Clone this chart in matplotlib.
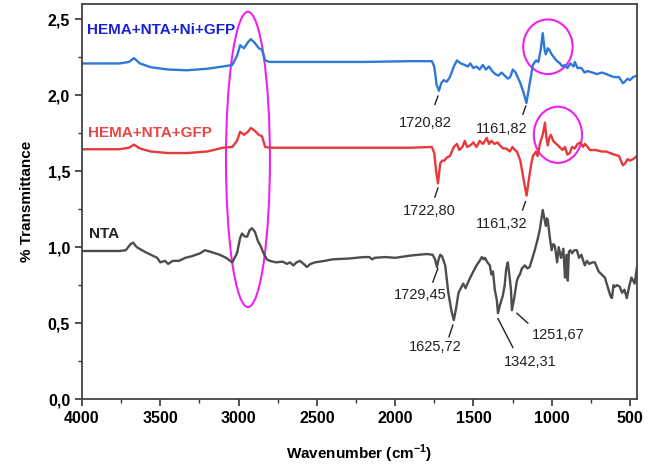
import matplotlib
matplotlib.use('Agg')
import matplotlib.pyplot as plt
from matplotlib.patches import Ellipse
from matplotlib.ticker import MultipleLocator, FuncFormatter

plt.rcParams['font.family'] = ['Liberation Sans', 'DejaVu Sans']
plt.rcParams['mathtext.fontset'] = 'custom'
plt.rcParams['mathtext.rm'] = 'Liberation Sans'
plt.rcParams['mathtext.bf'] = 'Liberation Sans:bold'

# HEMA+NTA+Ni+GFP (blue)
ni_wn = [4000, 3760, 3700, 3668, 3630, 3560, 3450, 3330, 3200, 3100, 3040, 3010, 2990, 2965,
         2940, 2922, 2900, 2870, 2850, 2830, 2800, 2500, 2200, 1900, 1765, 1750, 1735, 1720,
         1705, 1690, 1670, 1650, 1625, 1605, 1580, 1555, 1535, 1520, 1500, 1480, 1460, 1440,
         1420, 1400, 1380, 1360, 1340, 1320, 1300, 1280, 1265, 1248, 1230, 1200, 1180, 1161,
         1140, 1120, 1100, 1085, 1070, 1057, 1045, 1037, 1025, 1015, 1000, 970, 947, 930, 916,
         900, 880, 860, 852, 835, 810, 790, 770, 740, 710, 680, 650, 628, 600, 570, 545, 532,
         515, 500, 480, 455]
ni_t = [2.21, 2.21, 2.22, 2.245, 2.21, 2.185, 2.17, 2.165, 2.175, 2.19, 2.20, 2.26, 2.33, 2.31,
        2.35, 2.37, 2.35, 2.31, 2.30, 2.23, 2.22, 2.22, 2.22, 2.225, 2.225, 2.19, 2.07, 2.03,
        2.08, 2.10, 2.09, 2.12, 2.19, 2.23, 2.21, 2.20, 2.19, 2.21, 2.18, 2.19, 2.17, 2.20,
        2.17, 2.19, 2.16, 2.14, 2.13, 2.15, 2.13, 2.11, 2.12, 2.17, 2.15, 2.08, 2.02, 1.95,
        2.08, 2.20, 2.23, 2.22, 2.30, 2.41, 2.30, 2.27, 2.31, 2.30, 2.27, 2.23, 2.21, 2.19, 2.20,
        2.18, 2.21, 2.19, 2.22, 2.18, 2.18, 2.15, 2.16, 2.15, 2.14, 2.15, 2.14, 2.13, 2.12, 2.12,
        2.08, 2.09, 2.11, 2.10, 2.12, 2.13]

# HEMA+NTA+GFP (red)
gfp_wn = [4000, 3760, 3700, 3668, 3630, 3560, 3450, 3330, 3200, 3100, 3040, 3010, 2990, 2965,
          2940, 2922, 2900, 2870, 2850, 2830, 2800, 2500, 2200, 1900, 1765, 1750, 1738, 1726,
          1712, 1700, 1685, 1670, 1650, 1625, 1605, 1590, 1570, 1555, 1540, 1520, 1500, 1480,
          1460, 1440, 1425, 1415, 1400, 1385, 1365, 1345, 1330, 1310, 1290, 1267, 1250, 1235,
          1222, 1200, 1180, 1160, 1145, 1130, 1120, 1100, 1090, 1075, 1055, 1043, 1033, 1025,
          1015, 1005, 990, 970, 950, 930, 915, 900, 884, 870, 852, 835, 815, 800, 788, 770, 756,
          720, 680, 650, 628, 600, 570, 545, 532, 515, 500, 480, 455]
gfp_t = [1.645, 1.645, 1.655, 1.675, 1.65, 1.63, 1.62, 1.62, 1.63, 1.655, 1.66, 1.70, 1.76, 1.74,
         1.76, 1.785, 1.77, 1.74, 1.73, 1.66, 1.655, 1.655, 1.655, 1.655, 1.66, 1.62, 1.50, 1.42,
         1.55, 1.57, 1.57, 1.59, 1.60, 1.66, 1.68, 1.64, 1.66, 1.70, 1.66, 1.67, 1.69, 1.66,
         1.70, 1.68, 1.70, 1.72, 1.68, 1.70, 1.68, 1.69, 1.67, 1.65, 1.65, 1.63, 1.66, 1.64,
         1.63, 1.57, 1.45, 1.34, 1.45, 1.55, 1.60, 1.63, 1.60, 1.68, 1.75, 1.82, 1.72, 1.67,
         1.72, 1.74, 1.70, 1.68, 1.66, 1.64, 1.66, 1.61, 1.62, 1.66, 1.65, 1.68, 1.69, 1.66, 1.68,
         1.66, 1.64, 1.64, 1.63, 1.63, 1.62, 1.61, 1.60, 1.54, 1.55, 1.58, 1.57, 1.58, 1.60]

# NTA (gray)
nta_wn = [4000, 3760, 3720, 3690, 3674, 3650, 3600, 3560, 3520, 3500, 3470, 3450, 3420, 3380,
          3340, 3300, 3245, 3215, 3180, 3120, 3080, 3040, 3010, 2990, 2978, 2960, 2945, 2930,
          2914, 2895, 2876, 2860, 2840, 2820, 2800, 2760, 2720, 2690, 2672, 2650, 2630, 2608,
          2590, 2563, 2540, 2512, 2450, 2400, 2300, 2200, 2165, 2147, 2130, 2065, 2000, 1900,
          1800, 1760, 1745, 1733, 1722, 1712, 1700, 1680, 1660, 1640, 1625, 1610, 1595, 1580,
          1565, 1550, 1542, 1520, 1500, 1480, 1460, 1446, 1435, 1427, 1410, 1395, 1385, 1375,
          1363, 1350, 1343, 1330, 1312, 1300, 1290, 1280, 1268, 1260, 1254, 1240, 1222, 1210,
          1203, 1190, 1171, 1155, 1140, 1120, 1108, 1090, 1075, 1057, 1045, 1037, 1030, 1025,
          1010, 1000, 990, 980, 965, 955, 940, 925, 915, 905, 897, 890, 880, 870, 855, 839, 825,
          810, 795, 788, 775, 760, 740, 724, 700, 680, 660, 640, 625, 615, 605, 595, 583, 565,
          550, 535, 520, 505, 490, 470, 455]
nta_t = [0.975, 0.975, 0.98, 1.02, 1.03, 1.00, 0.97, 0.95, 0.93, 0.90, 0.91, 0.89, 0.91, 0.91,
         0.93, 0.94, 0.96, 0.98, 0.97, 0.95, 0.93, 0.90, 0.96, 1.06, 1.09, 1.07, 1.07, 1.11,
         1.125, 1.10, 1.04, 1.01, 0.96, 0.92, 0.91, 0.90, 0.905, 0.89, 0.90, 0.88, 0.90, 0.91,
         0.895, 0.87, 0.89, 0.90, 0.91, 0.92, 0.925, 0.935, 0.935, 0.92, 0.93, 0.935, 0.93, 0.945,
         0.955, 0.95, 0.92, 0.87, 0.92, 0.95, 0.94, 0.88, 0.70, 0.58, 0.52, 0.60, 0.70, 0.73,
         0.76, 0.73, 0.75, 0.80, 0.84, 0.88, 0.91, 0.935, 0.92, 0.93, 0.90, 0.88, 0.82, 0.84,
         0.72, 0.65, 0.565, 0.62, 0.68, 0.75, 0.86, 0.90, 0.80, 0.72, 0.585, 0.66, 0.78, 0.81,
         0.82, 0.86, 0.88, 0.86, 0.87, 0.94, 0.98, 1.05, 1.12, 1.245, 1.18, 1.14, 1.19, 1.18,
         1.05, 0.98, 1.02, 1.01, 0.90, 1.00, 0.93, 0.99, 0.80, 0.95, 0.78, 0.97, 0.98, 0.96, 0.98,
         0.98, 0.93, 0.95, 0.90, 0.88, 0.91, 0.89, 0.90, 0.90, 0.84, 0.82, 0.80, 0.73, 0.68, 0.665,
         0.75, 0.74, 0.75, 0.74, 0.70, 0.72, 0.665, 0.74, 0.80, 0.76, 0.87]

# peak labels: text, text position, line start (near peak), line end
peak_labels = ['1720,82', '1161,82', '1722,80', '1161,32', '1729,45', '1625,72', '1342,31', '1251,67']
peak_text_xy = [(1810, 1.82), (1318, 1.78), (1784, 1.24), (1318, 1.15),
                (1842, 0.685), (1746, 0.34), (1139, 0.245), (960, 0.42)]
peak_line_from = [(1726, 1.995), (1165, 1.93), (1726, 1.39), (1167, 1.30),
                  (1727, 0.86), (1631, 0.487), (1343, 0.53), (1222, 0.565)]
peak_line_to = [(1746, 1.94), (1184, 1.875), (1746, 1.33), (1186, 1.245),
                (1759, 0.77), (1656, 0.41), (1248, 0.34), (1152, 0.50)]

fig = plt.figure(figsize=(6.56, 4.70), dpi=100)
ax = fig.add_axes([0.125, 0.151, 0.846, 0.84])

ax.plot(ni_wn, ni_t, color='#2f78d8', lw=1.7)
ax.plot(gfp_wn, gfp_t, color='#e8393a', lw=1.7)
ax.plot(nta_wn, nta_t, color='#4d4d4d', lw=1.7)

ax.text(3968, 2.43, 'HEMA+NTA+Ni+GFP', color='#1a22d8', fontsize=11, fontweight='bold', va='center')
ax.text(3960, 1.755, 'HEMA+NTA+GFP', color='#e84545', fontsize=11, fontweight='bold', va='center')
ax.text(3955, 1.09, 'NTA', color='#222222', fontsize=11, fontweight='bold', va='center')

for lab, txy, p0, p1 in zip(peak_labels, peak_text_xy, peak_line_from, peak_line_to):
    ax.plot([p0[0], p1[0]], [p0[1], p1[1]], color='#222222', lw=1.0)
    ax.text(txy[0], txy[1], lab, fontsize=10.5, ha='center', va='center', color='#222222')

# highlight shapes
ax.add_patch(Ellipse((2940, 1.578), 281, 1.945, fill=False, ec='#ee22ee', lw=1.5))
ax.add_patch(Ellipse((1024, 2.32), 316, 0.36, fill=False, ec='#ee22ee', lw=1.5))
ax.add_patch(Ellipse((960, 1.74), 308, 0.37, fill=False, ec='#ee22ee', lw=1.5))

ax.set_xlim(4000, 455)
ax.set_ylim(0, 2.6)
ax.xaxis.set_major_locator(MultipleLocator(500))
ax.xaxis.set_minor_locator(MultipleLocator(250))
ax.yaxis.set_major_locator(MultipleLocator(0.5))
ax.yaxis.set_minor_locator(MultipleLocator(0.25))
ax.yaxis.set_major_formatter(FuncFormatter(lambda v, p: f'{v:.1f}'.replace('.', ',')))
ax.tick_params(which='both', direction='out', top=False, right=False, color='#333333')
ax.tick_params(which='major', length=5, width=1.2, labelsize=11.5)
ax.tick_params(which='minor', length=3, width=1.0)
for lab in ax.get_xticklabels() + ax.get_yticklabels():
    lab.set_fontweight('bold')
for s in ax.spines.values():
    s.set_color('#444444')
    s.set_linewidth(1.3)

ax.set_xlabel(r'Wavenumber (cm$^{\mathbf{-1}}$)', fontsize=11, fontweight='bold', labelpad=12)
ax.set_ylabel('% Transmittance', fontsize=11, fontweight='bold', labelpad=10)

fig.savefig('out.png', dpi=100)
